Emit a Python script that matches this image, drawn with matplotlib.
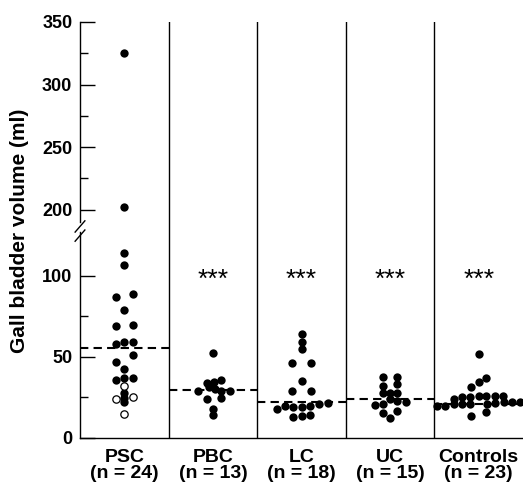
import numpy as np
import matplotlib
matplotlib.use("Agg")
import matplotlib.pyplot as plt
from matplotlib.scale import FuncScale

plt.rcParams['font.family'] = ['Liberation Sans', 'DejaVu Sans']
plt.rcParams['font.weight'] = 'bold'

# ---- data ----
groups = ["PSC", "PBC", "LC", "UC", "Controls"]
ns = [24, 13, 18, 15, 23]
medians = [55.5, 29.5, 22, 24, 21]
significant = [False, True, True, True, True]

# filled points: (value, column offset in dot widths)
psc_vals = [325, 202, 114, 107, 87, 89, 79, 69, 70, 59.5, 59, 57.8, 51, 46.7, 42.4, 36, 37, 37, 28, 24.5, 22]
psc_cols = [0, 0, 0, 0, -1, 1, 0, -1, 1, 0, 1, -1, 1, -1, 0, -1, 0, 1, 0, 0, 0]
psc_open_vals = [32, 24, 25, 15]
psc_open_cols = [0, -1, 1, 0]

pbc_vals = [52.3, 33.7, 34.8, 35.8, 29, 31.3, 30, 29, 29, 24.1, 24.5, 17.9, 14.2]
pbc_cols = [0, -0.75, 0.1, 1, -1.75, -0.5, 0.2, 1, 2, -0.75, 1, 0, 0]

lc_vals = [64, 59.5, 54.7, 46.5, 46.5, 35.4, 29, 29, 17.9, 19.9, 19.3, 19, 19.9, 20.8, 21.4, 12.8, 13.6, 14.2]
lc_cols = [0, 0, 0, -1.1, 1.1, 0, -1.1, 1.1, -3, -1.95, -1, 0, 1, 2.1, 3.2, -1, 0, 1]

uc_vals = [37.8, 32.1, 27.6, 21, 28, 24, 12.2, 37.8, 33.1, 27.6, 23, 16.9, 20.4, 22, 15.2]
uc_cols = [-0.9, -0.9, -0.9, -0.9, 0, 0, 0, 0.85, 0.85, 0.85, 0.85, 0.85, -1.8, 1.95, -0.9]

ctl_vals = [51.9, 36.8, 34.8, 31.3,
            24, 25.5, 25.5, 26, 26, 26, 26,
            20, 20, 21, 21, 21, 21, 21.5, 22, 22, 22,
            16.2, 13.6]
ctl_cols = [0, 0.85, 0, -0.95,
            -3, -2, -1, 0, 0.9, 1.9, 2.9,
            -5, -4, -3, -2, -1, 1, 2, 3, 4, 4.9,
            0.85, -0.95]

filled = [(psc_vals, psc_cols), (pbc_vals, pbc_cols), (lc_vals, lc_cols),
          (uc_vals, uc_cols), (ctl_vals, ctl_cols)]

major_ticks = [0, 50, 100, 200, 250, 300, 350]
minor_ticks = [25, 75, 225, 275, 325]

# ---- broken scale ----
B1, B2 = 127.0, 190.0
s1, sg, s2 = 1.62, 10.0 / 63.0, 1.25
Y1 = B1 * s1
Y2 = Y1 + (B2 - B1) * sg


def fwd(v):
    v = np.asarray(v, dtype=float)
    return np.where(v <= B1, v * s1,
                    np.where(v <= B2, Y1 + (v - B1) * sg, Y2 + (v - B2) * s2))


def inv(y):
    y = np.asarray(y, dtype=float)
    return np.where(y <= Y1, y / s1,
                    np.where(y <= Y2, B1 + (y - Y1) / sg, B2 + (y - Y2) / s2))


W, H = 523, 487
fig = plt.figure(figsize=(W / 100, H / 100), dpi=100)
ax = fig.add_axes([80 / W, (H - 438) / H, (W - 80) / W, (438 - 22) / H])
ax.set_yscale(FuncScale(ax, (fwd, inv)))
ax.set_ylim(0, 350)
ax.set_xlim(0, 5)

step = 0.094  # column spacing in category units
for i, (vals, cols) in enumerate(filled):
    x = i + 0.5 + np.asarray(cols) * step
    ax.scatter(x, vals, s=36, color='black', zorder=3, linewidths=0)
ax.scatter(0.5 + np.asarray(psc_open_cols) * step, psc_open_vals, s=28,
           facecolor='white', edgecolor='black', linewidths=0.9, zorder=3)

for i, m in enumerate(medians):
    ax.plot([i, i + 1], [m, m], color='black', lw=1.5, ls=(0, (4, 2.5)), zorder=2)
    if significant[i]:
        ax.text(i + 0.5, 93, "***", ha='center', va='baseline', fontsize=19,
                fontweight='normal')

for i in range(1, 5):
    ax.axvline(i, color='black', lw=1.0)

for s in ['top', 'right', 'left']:
    ax.spines[s].set_visible(False)
ax.spines['bottom'].set_linewidth(1.0)

# left spine with break
tr = ax.get_yaxis_transform()
ax.plot([0, 0], [0, B1], color='black', lw=1.0, transform=tr, clip_on=False)
ax.plot([0, 0], [B2, 350], color='black', lw=1.0, transform=tr, clip_on=False)
ax.plot([-0.011, 0.011], [0.495, 0.522], color='black', lw=1.0,
        transform=ax.transAxes, clip_on=False)
ax.plot([-0.011, 0.011], [0.473, 0.500], color='black', lw=1.0,
        transform=ax.transAxes, clip_on=False)

ax.set_yticks(major_ticks)
ax.set_yticks(minor_ticks, minor=True)
ax.set_yticklabels([str(t) for t in major_ticks], fontsize=13)
ax.tick_params(axis='y', which='major', direction='in', length=11, width=1.0, pad=5.5)
ax.tick_params(axis='y', which='minor', direction='in', length=5.5, width=1.0)

ax.set_xticks([i + 0.5 for i in range(5)])
ax.set_xticklabels([f"{g}\n(n = {n})" for g, n in zip(groups, ns)],
                   fontsize=14, linespacing=0.92)
ax.tick_params(axis='x', length=0, pad=8)

fig.text(20 / W, (H - 231) / H, "Gall bladder volume (ml)", rotation=90,
         ha='center', va='center', fontsize=15)

fig.savefig("out.png", dpi=100)
